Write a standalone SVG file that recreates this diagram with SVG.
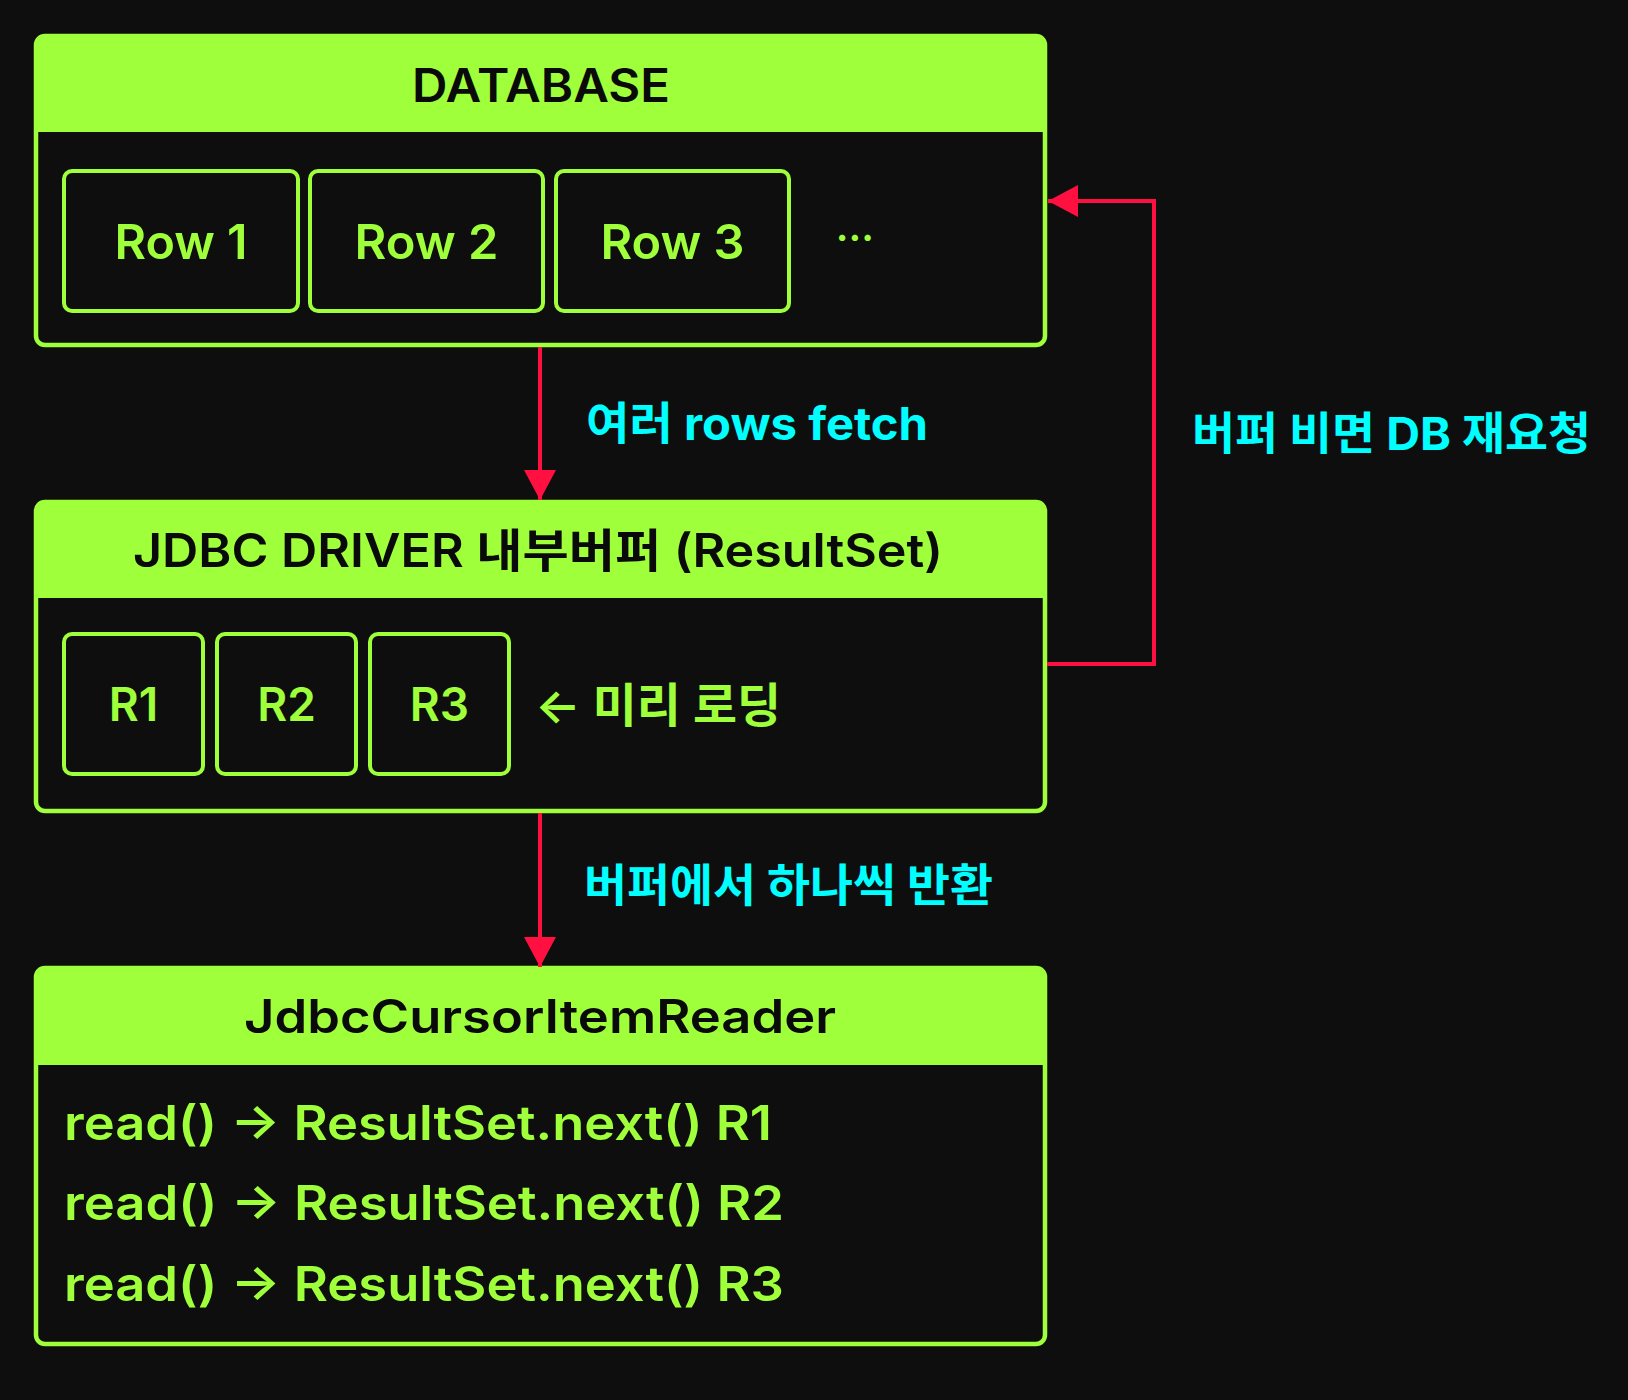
<svg xmlns="http://www.w3.org/2000/svg" width="1628" height="1400" viewBox="0 0 1628 1400">
<defs>
<style>
.bg{fill:#0e0e0e}
.frame{fill:#0e0e0e;stroke:#9eff3a;stroke-width:4.5}
.head{fill:#9eff3a}
.cell{fill:#0e0e0e;stroke:#9eff3a;stroke-width:4}
.t{font-family:Inter,"Noto Sans CJK KR",sans-serif;font-weight:600}
.ht{font-size:46px;fill:#0a0a0a;text-anchor:middle}
.gt{fill:#9eff3a}
.ct{fill:#00ffff;font-family:Inter,"Noto Sans CJK KR",sans-serif;font-weight:700;font-size:45px}
.conn{fill:none;stroke:#ff1040;stroke-width:4}
</style>
<marker id="ah" markerUnits="userSpaceOnUse" markerWidth="32" markerHeight="32" viewBox="0 0 32 32" refX="30" refY="16" orient="auto">
<path d="M0,0 L30,16 L0,32 Z" fill="#ff1040"/>
</marker>
</defs>
<rect class="bg" x="0" y="0" width="1628" height="1400"/>

<g id="database">
<rect class="frame" x="36" y="36" width="1009" height="309" rx="9"/>
<path class="head" d="M36,45 a9,9 0 0 1 9,-9 H1036 a9,9 0 0 1 9,9 V132 H36 Z"/>
<text class="t ht" x="541" y="102" font-size="48" textLength="258" lengthAdjust="spacingAndGlyphs">DATABASE</text>
<g id="row1"><rect class="cell" x="64" y="171" width="234" height="140" rx="8"/><text class="t gt" x="181" y="259" font-size="48" text-anchor="middle" textLength="133" lengthAdjust="spacingAndGlyphs">Row 1</text></g>
<g id="row2"><rect class="cell" x="310" y="171" width="233" height="140" rx="8"/><text class="t gt" x="426.5" y="259" font-size="48" text-anchor="middle" textLength="144" lengthAdjust="spacingAndGlyphs">Row 2</text></g>
<g id="row3"><rect class="cell" x="556" y="171" width="233" height="140" rx="8"/><text class="t gt" x="672.5" y="259" font-size="48" text-anchor="middle" textLength="144" lengthAdjust="spacingAndGlyphs">Row 3</text></g>
<text class="t gt" x="855" y="241" font-size="40" text-anchor="middle" font-weight="700">...</text>
</g>

<g id="jdbc-driver">
<rect class="frame" x="36" y="502" width="1009" height="309" rx="9"/>
<path class="head" d="M36,511 a9,9 0 0 1 9,-9 H1036 a9,9 0 0 1 9,9 V598 H36 Z"/>
<text class="t ht" x="538" y="567" font-size="44" textLength="810" lengthAdjust="spacingAndGlyphs">JDBC DRIVER 내부버퍼 (ResultSet)</text>
<g id="r1"><rect class="cell" x="64" y="634" width="139" height="140" rx="8"/><text class="t gt" x="133.5" y="721" font-size="46" text-anchor="middle">R1</text></g>
<g id="r2"><rect class="cell" x="217" y="634" width="139" height="140" rx="8"/><text class="t gt" x="286.5" y="721" font-size="46" text-anchor="middle">R2</text></g>
<g id="r3"><rect class="cell" x="370" y="634" width="139" height="140" rx="8"/><text class="t gt" x="439.5" y="721" font-size="46" text-anchor="middle">R3</text></g>
<text class="t gt" x="535" y="722" font-size="47" textLength="246" lengthAdjust="spacingAndGlyphs">← 미리 로딩</text>
</g>

<g id="cursor-reader">
<rect class="frame" x="36" y="968" width="1009" height="376" rx="9"/>
<path class="head" d="M36,977 a9,9 0 0 1 9,-9 H1036 a9,9 0 0 1 9,9 V1065 H36 Z"/>
<text class="t ht" x="540" y="1033" font-size="46" textLength="592" lengthAdjust="spacingAndGlyphs">JdbcCursorItemReader</text>
<text class="t gt" x="64" y="1140" font-size="48" textLength="708" lengthAdjust="spacingAndGlyphs">read() → ResultSet.next() R1</text>
<text class="t gt" x="64" y="1220" font-size="48" textLength="720" lengthAdjust="spacingAndGlyphs">read() → ResultSet.next() R2</text>
<text class="t gt" x="64" y="1301" font-size="48" textLength="720" lengthAdjust="spacingAndGlyphs">read() → ResultSet.next() R3</text>
</g>

<g id="connectors">
<line class="conn" x1="540" y1="347" x2="540" y2="500" marker-end="url(#ah)"/>
<line class="conn" x1="540" y1="813" x2="540" y2="967" marker-end="url(#ah)"/>
<path class="conn" d="M1047,664 H1154 V201 H1048" marker-end="url(#ah)"/>
<text class="ct" x="586" y="440" textLength="342" lengthAdjust="spacingAndGlyphs">여러 rows fetch</text>
<text class="ct" x="584" y="902" textLength="409" lengthAdjust="spacingAndGlyphs">버퍼에서 하나씩 반환</text>
<text class="ct" x="1192" y="450" textLength="399" lengthAdjust="spacingAndGlyphs">버퍼 비면 DB 재요청</text>
</g>
</svg>
